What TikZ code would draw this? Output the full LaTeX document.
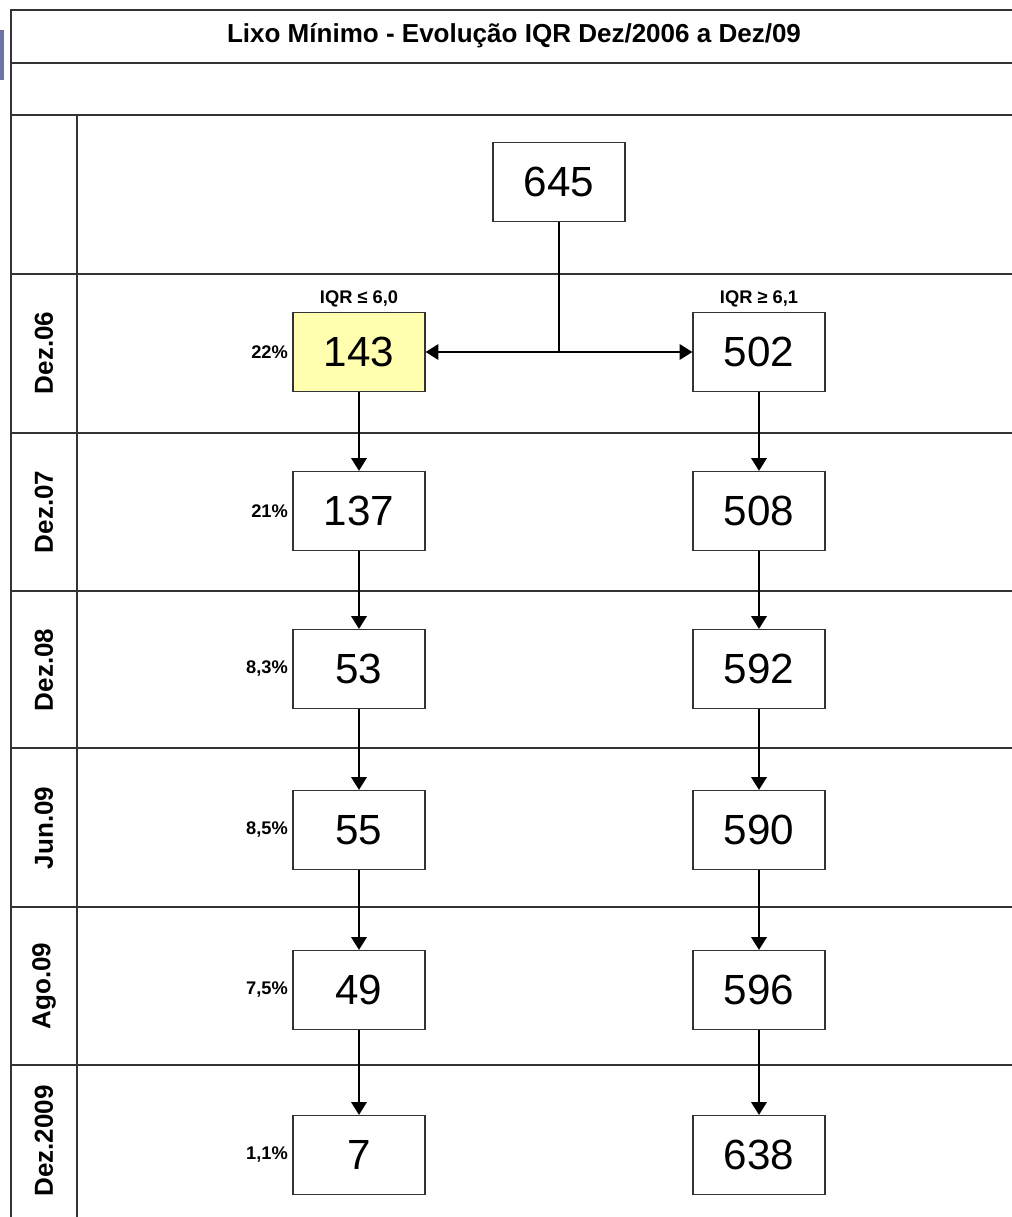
\documentclass[tikz,border=0pt]{standalone}
\usepackage{fontspec}
\setmainfont{Liberation Sans}
\usepackage{tikz}
\usetikzlibrary{positioning, arrows.meta}

\definecolor{boxyellow}{RGB}{255,255,175}
\definecolor{stripblue}{RGB}{108,116,164}

\begin{document}
\begin{tikzpicture}[
    x=0.025cm, y=-0.025cm,
    grid/.style={draw=black!80, line width=1.1pt},
    valbox/.style={draw=black!80, line width=0.9pt, minimum width=3.3cm, minimum height=1.975cm, inner sep=0pt, font=\fontsize{30}{36}\selectfont},
    pct/.style={font=\fontsize{13}{15}\selectfont\bfseries, inner sep=3pt},
    cond/.style={font=\fontsize{13}{15}\selectfont\bfseries},
    period/.style={rotate=90, font=\fontsize{18.5}{22}\selectfont\bfseries},
    flow/.style={draw, line width=1.1pt, -{Triangle[length=9pt, width=11pt]}},
    node distance=0pt
]
\useasboundingbox (0,0) rectangle (1012,1217);

% frame and rows
\fill[stripblue] (0,30) rectangle (4,80);
\draw[grid] (11,1217) -- (11,10) -- (1012,10);
\draw[grid] (11,63) -- (1012,63);
\draw[grid] (11,115) -- (1012,115);
\draw[grid] (77,115) -- (77,1217);
\foreach \yy in {274,433,591,748,907,1065}
    \draw[grid] (11,\yy) -- (1012,\yy);

\node[font=\fontsize{18.5}{22}\selectfont\bfseries] (title) at (514,36) {Lixo Mínimo - Evolução IQR Dez/2006 a Dez/09};

% periods
\node[period] (dez06) at (44,353) {Dez.06};
\node[period] (dez07) at (44,512) {Dez.07};
\node[period] (dez08) at (44,670) {Dez.08};
\node[period] (jun09) at (44,828) {Jun.09};
\node[period] (ago09) at (44,986) {Ago.09};
\node[period] (dez09) at (44,1141) {Dez.2009};

% values
\node[valbox] (total) at (559,182) {645};
\node[valbox, fill=boxyellow] (low06) at (359,352) {143};
\node[valbox] (high06) at (759,352) {502};
\node[valbox] (low07) at (359,511) {137};
\node[valbox] (high07) at (759,511) {508};
\node[valbox] (low08) at (359,669) {53};
\node[valbox] (high08) at (759,669) {592};
\node[valbox] (lowjun) at (359,830) {55};
\node[valbox] (highjun) at (759,830) {590};
\node[valbox] (lowago) at (359,990) {49};
\node[valbox] (highago) at (759,990) {596};
\node[valbox] (lowdez) at (359,1155) {7};
\node[valbox] (highdez) at (759,1155) {638};

\node[cond, above=of low06] (condlow) {IQR ≤ 6,0};
\node[cond, above=of high06] (condhigh) {IQR ≥ 6,1};

\node[pct, left=of low06] (pct06) {22\%};
\node[pct, left=of low07] (pct07) {21\%};
\node[pct, left=of low08] (pct08) {8,3\%};
\node[pct, left=of lowjun] (pctjun) {8,5\%};
\node[pct, left=of lowago] (pctago) {7,5\%};
\node[pct, left=of lowdez] (pctdez) {1,1\%};

% connectors
\coordinate (split) at (total |- low06);
\draw[line width=1.1pt] (total) -- (split);
\draw[flow] (split) -- (low06);
\draw[flow] (split) -- (high06);
\draw[flow] (low06) -- (low07);
\draw[flow] (low07) -- (low08);
\draw[flow] (low08) -- (lowjun);
\draw[flow] (lowjun) -- (lowago);
\draw[flow] (lowago) -- (lowdez);
\draw[flow] (high06) -- (high07);
\draw[flow] (high07) -- (high08);
\draw[flow] (high08) -- (highjun);
\draw[flow] (highjun) -- (highago);
\draw[flow] (highago) -- (highdez);
\end{tikzpicture}
\end{document}
